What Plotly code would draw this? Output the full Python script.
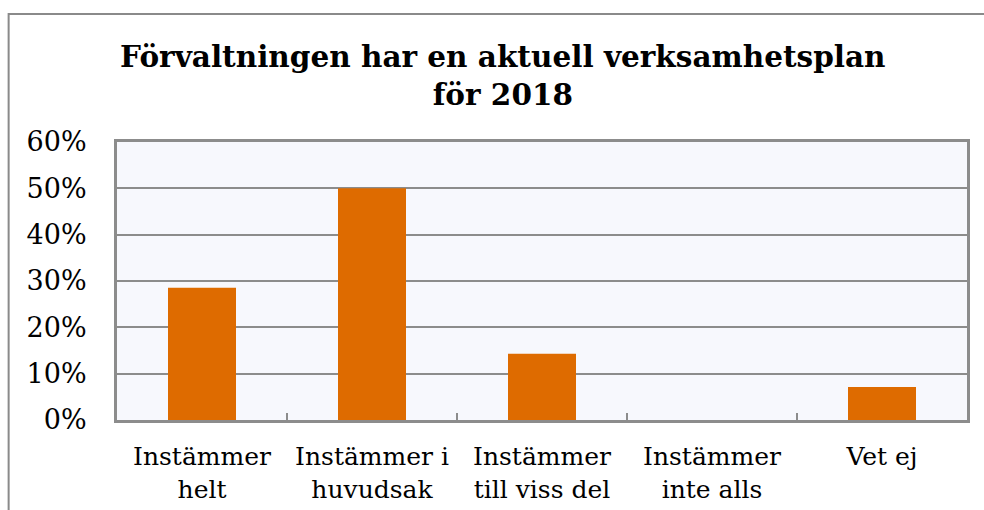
import plotly.graph_objects as go

categories = ["Instämmer<br>helt", "Instämmer i<br>huvudsak", "Instämmer<br>till viss del",
              "Instämmer<br>inte alls", "Vet ej"]
values = [0.2857, 0.50, 0.1429, 0.0, 0.0714]
title_text = "Förvaltningen har en aktuell verksamhetsplan<br>för 2018"

fig = go.Figure(go.Bar(x=categories, y=values, marker=dict(color="#DE6B00", line=dict(width=0)),
                       width=0.4))

grey = "#8C8C8C"
fig.update_layout(
    width=984, height=510,
    margin=dict(l=117, r=17, t=142, b=90),
    paper_bgcolor="white", plot_bgcolor="#F7F8FD",
    showlegend=False, hovermode=False,
    title=dict(text=title_text, x=0.511, xanchor="center", y=0.869, yanchor="top",
               font=dict(family="DejaVu Serif", size=29.5, color="black", weight="bold")),
    bargap=0.6,
)
fig.update_yaxes(range=[0, 0.6], dtick=0.1, tickformat=".0%", showgrid=True, gridcolor=grey,
                 gridwidth=2, showline=True, linecolor=grey, linewidth=3, mirror=True,
                 ticks="", ticklabelstandoff=22, zeroline=False, automargin=False,
                 tickfont=dict(family="DejaVu Serif", size=27, color="black"))
fig.update_xaxes(showline=True, linecolor=grey, linewidth=3, mirror=True, ticks="inside",
                 tickson="boundaries", ticklen=7, tickcolor=grey, tickwidth=2,
                 ticklabelstandoff=12, automargin=False,
                 tickfont=dict(family="DejaVu Serif", size=25, color="black"))

# outer chart border (top and left)
fig.add_shape(type="path", xref="paper", yref="paper",
              path="M -0.1275,-0.4 L -0.1275,1.46 L 1.1,1.46",
              line=dict(color="#8A8A8A", width=2))

fig.write_html("out.html", config={"displayModeBar": False},
               post_script="document.body.style.margin='0';document.body.style.overflow='hidden';")
